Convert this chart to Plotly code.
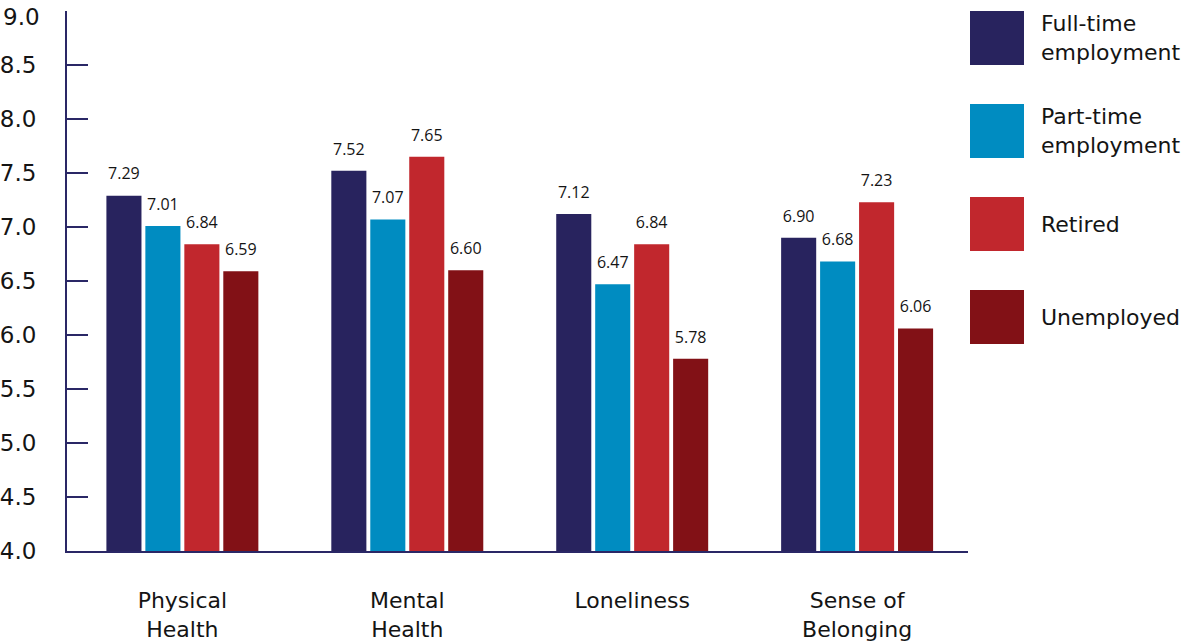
import plotly.graph_objects as go

categories = ["Physical<br>Health", "Mental<br>Health", "Loneliness", "Sense of<br>Belonging"]
series_names = ["Full-time<br>employment", "Part-time<br>employment", "Retired", "Unemployed"]
full_time = [7.29, 7.52, 7.12, 6.90]
part_time = [7.01, 7.07, 6.47, 6.68]
retired = [6.84, 7.65, 6.84, 7.23]
unemployed = [6.59, 6.60, 5.78, 6.06]
y_ticks = [4.0, 4.5, 5.0, 5.5, 6.0, 6.5, 7.0, 7.5, 8.0, 8.5, 9.0]

colors = ["#28235E", "#008CC1", "#C1272D", "#821116"]
series = [full_time, part_time, retired, unemployed]
AXIS = "#2A2766"
TXT = "#141414"
FONT = "DejaVu Sans"
LABEL_FONT = "Open Sans"

fig = go.Figure()
for i, (name, vals) in enumerate(zip(series_names, series)):
    fig.add_trace(go.Bar(x=categories, y=vals, name=name, marker_color=colors[i],
                         marker_line_width=0, offsetgroup=str(i), showlegend=False))
for i, (name, vals) in enumerate(zip(series_names, series)):
    fig.add_trace(go.Scatter(x=categories, y=vals, mode="markers+text", offsetgroup=str(i),
                             text=[f"{v:.2f}" for v in vals], textposition="top center",
                             marker=dict(size=18, opacity=0),
                             textfont=dict(size=16, color=TXT, family=LABEL_FONT),
                             showlegend=False, hoverinfo="skip", cliponaxis=False))

# manual legend
L, R, T, B = 67, 968, 11, 551
W, H = R - L, B - T
for i, name in enumerate(series_names):
    top = 11 + 93 * i
    fig.add_shape(type="rect", xref="paper", yref="paper",
                  x0=(970 - L) / W, x1=(1024 - L) / W,
                  y0=(B - top) / H, y1=(B - top - 54) / H,
                  fillcolor=colors[i], line_width=0)
    fig.add_annotation(xref="paper", yref="paper", x=(1039 - L) / W, y=(B - top - 27) / H,
                       text=name, showarrow=False, xanchor="left", yanchor="middle", align="left",
                       font=dict(size=22, color=TXT, family=FONT))

# top tick label nudged down so it stays inside the page
tick_text = [f"{t:.1f}" for t in y_ticks]
fig.add_annotation(xref="paper", yref="y", x=0, y=y_ticks[-1], text=tick_text[-1],
                   showarrow=False, xanchor="right", yanchor="middle", xshift=-25, yshift=-6,
                   font=dict(size=23, color=TXT, family=FONT))
tick_text[-1] = ""

fig.update_layout(
    width=1189, height=641,
    margin=dict(l=L, r=1189 - R, t=T, b=641 - B, pad=0, autoexpand=False),
    paper_bgcolor="white", plot_bgcolor="white",
    barmode="group", bargap=0.307, bargroupgap=0.1,
    scattermode="group", scattergap=0.307,
    font=dict(family=FONT, color=TXT),
    xaxis=dict(type="category", range=[-0.513, 3.493], showline=True, linecolor=AXIS, linewidth=2,
               showgrid=False, ticks="", tickfont=dict(size=22, color=TXT, family=FONT),
               ticklabelstandoff=29, zeroline=False, automargin=False, ticklabeloverflow="allow"),
    yaxis=dict(range=[4, 9], tickvals=y_ticks, ticktext=tick_text,
               showline=True, linecolor=AXIS, linewidth=2, showgrid=False, zeroline=False,
               ticks="inside", ticklen=21, tickwidth=2, tickcolor=AXIS,
               tickfont=dict(size=23, color=TXT, family=FONT), ticklabelstandoff=24,
               automargin=False, ticklabeloverflow="allow"),
)

fig.write_html("out.html")
